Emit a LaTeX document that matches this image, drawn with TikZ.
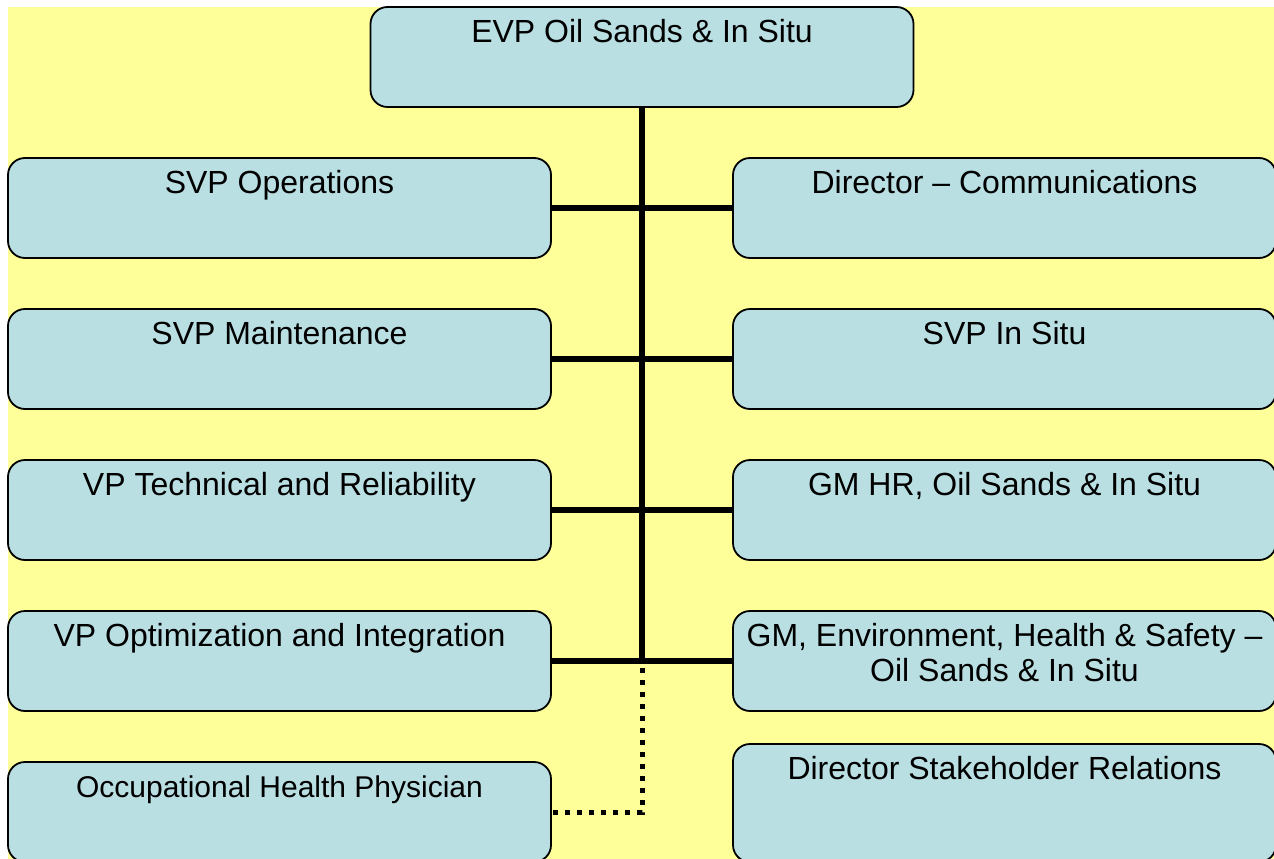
\documentclass[tikz,border=0pt]{standalone}
\usepackage{fontspec}
\setmainfont{Liberation Sans}
\definecolor{bgyellow}{HTML}{FFFF99}
\definecolor{boxfill}{HTML}{B9DFE3}
\begin{document}
\begin{tikzpicture}[x=1pt,y=-1pt,
  box/.style={draw=black, line width=1.8pt, fill=boxfill, rounded corners=17pt,
    minimum width=543pt, minimum height=100pt, inner sep=0pt, outer sep=0pt},
  lbl/.style={font=\fontsize{32}{35}\selectfont, anchor=north, inner sep=0pt, align=center, yshift=-12.5pt},
  lblsmall/.style={font=\fontsize{30}{34}\selectfont, anchor=north, inner sep=0pt, align=center, yshift=-13.5pt},
  link/.style={line width=5.5pt},
  dotlink/.style={line width=5pt, dash pattern=on 5pt off 7pt, dash phase=-7pt}]
\useasboundingbox (0,0) rectangle (1274,859);
\fill[bgyellow] (8,7) rectangle (1274,859);

% boxes
\node[box] (evp) at (642,57) {};
\node[box] (l1) at (279.5,208) {};
\node[box] (l2) at (279.5,359) {};
\node[box] (l3) at (279.5,510) {};
\node[box] (l4) at (279.5,661) {};
\node[box] (l5) at (279.5,812) {};
\node[box] (r1) at (1004.5,208) {};
\node[box] (r2) at (1004.5,359) {};
\node[box] (r3) at (1004.5,510) {};
\node[box] (r4) at (1004.5,661) {};
\node[box, minimum height=118pt] (r5) at (1004.5,803) {};

% labels
\node[lbl] (tevp) at (evp.north) {EVP Oil Sands \& In Situ};
\node[lbl] (tl1) at (l1.north) {SVP Operations};
\node[lbl] (tl2) at (l2.north) {SVP Maintenance};
\node[lbl] (tl3) at (l3.north) {VP Technical and Reliability};
\node[lbl] (tl4) at (l4.north) {VP Optimization and Integration};
\node[lblsmall] (tl5) at (l5.north) {Occupational Health Physician};
\node[lbl] (tr1) at (r1.north) {Director -- Communications};
\node[lbl] (tr2) at (r2.north) {SVP In Situ};
\node[lbl] (tr3) at (r3.north) {GM HR, Oil Sands \& In Situ};
\node[lbl] (tr4) at (r4.north) {GM, Environment, Health \& Safety --\\Oil Sands \& In Situ};
\node[lbl] (tr5) at (r5.north) {Director Stakeholder Relations};

% connectors
\coordinate (j4) at (evp.south |- l4.east);
\draw[link] (evp.south) -- (j4);
\draw[link] (l1.east) -- (r1.west);
\draw[link] (l2.east) -- (r2.west);
\draw[link] (l3.east) -- (r3.west);
\draw[link] (l4.east) -- (r4.west);
\draw[dotlink] (j4) -- (j4 |- l5.east) -- (l5.east);
\end{tikzpicture}
\end{document}
